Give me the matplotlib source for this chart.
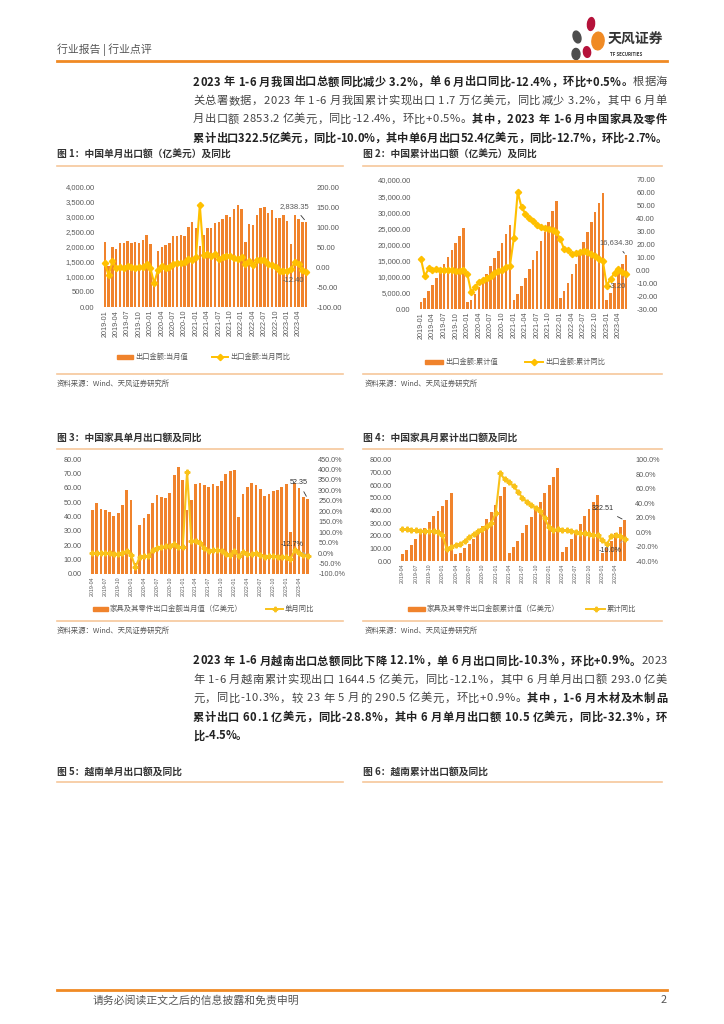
import numpy as np
import pandas as pd
import matplotlib
matplotlib.use('Agg')
import matplotlib.pyplot as plt
from matplotlib.patches import Rectangle, Ellipse
from matplotlib.lines import Line2D
from matplotlib.ticker import FuncFormatter

plt.rcParams['font.family'] = ['Noto Sans CJK SC', 'DejaVu Sans']

# ---- data ----
months_a = pd.period_range('2019-01', periods=54, freq='M').strftime('%Y-%m').tolist()
months_b = pd.period_range('2019-04', periods=51, freq='M').strftime('%Y-%m').tolist()

cn_month = [2175, 1352, 1987, 1934, 2138, 2128, 2215, 2148, 2181, 2129, 2217, 2395,
            2100, 820, 1851, 2004, 2068, 2137, 2372, 2353, 2393, 2371, 2680, 2819,
            2637, 2046, 2411, 2639, 2636, 2814, 2824, 2944, 3057, 3001, 3255, 3404,
            3273, 2174, 2760, 2735, 3083, 3309, 3329, 3147, 3225, 2983, 2961, 3063,
            2880, 2100, 3080, 2950, 2840, 2838.35]
cn_month_yoy = [9.1, -20.8, 13.8, -2.7, 1.1, -1.3, 3.3, -1.0, -3.2, -0.9, -1.1, 7.6,
                -3.0, -40.6, -6.6, 3.5, -3.3, 0.5, 7.2, 9.5, 9.9, 11.4, 21.1, 18.1,
                24.9, 154.9, 30.6, 32.3, 27.9, 32.2, 19.3, 25.6, 28.1, 27.1, 22.0, 20.9,
                24.1, 6.3, 14.7, 3.9, 16.9, 17.9, 18.0, 7.1, 5.5, -0.3, -8.9, -10.5,
                -11.0, -6.0, 13.0, 8.0, -7.5, -12.4]

cn_cum = [2175, 3527, 5514, 7448, 9586, 11714, 13929, 16077, 18258, 20387, 22604, 24990,
          2100, 2924, 4775, 6779, 8847, 10984, 13356, 15709, 18102, 20473, 23153, 25906,
          2637, 4683, 7094, 9733, 12369, 15183, 18007, 20951, 24008, 27009, 30264, 33640,
          3273, 5447, 8207, 10942, 14025, 17334, 20663, 23810, 27035, 30018, 32979, 35936,
          2880, 4980, 8060, 11010, 13850, 16634.30]
cn_cum_yoy = [9.1, -4.6, 1.4, 0.2, 0.7, 0.1, 0.6, 0.3, -0.1, -0.2, -0.3, 0.5,
              -3.0, -17.2, -13.3, -9.0, -7.7, -6.2, -4.1, -2.3, -0.8, 0.5, 2.5, 3.6,
              24.9, 60.6, 48.8, 44.0, 40.2, 38.6, 35.0, 33.7, 33.0, 32.3, 31.1, 29.9,
              24.1, 16.3, 15.8, 12.5, 13.5, 14.2, 14.6, 14.2, 12.8, 11.1, 9.0, 7.0,
              -11.8, -6.8, -1.9, 0.9, -1.7, -3.2]

fur_month = [44.8, 49.4, 45.2, 44.8, 42.9, 40.6, 42.7, 48.3, 58.5,
             51.3, 7.7, 34.3, 38.7, 41.5, 49.4, 55.2, 53.4, 52.9, 56.6, 68.7, 74.7,
             65.7, 44.5, 51.7, 62.4, 63.1, 62.0, 60.3, 62.4, 61.5, 64.5, 69.8, 71.7,
             72.6, 39.4, 55.7, 60.3, 63.1, 61.7, 59.2, 54.5, 55.7, 57.8, 58.7, 60.8,
             62.9, 29.5, 63.3, 60.1, 53.5, 52.35]
fur_month_yoy = [1, 1, -1, 2, 0, -2, -4, -1, 10,
                 -8, -67, -19, -16, -16, 13, 25, 29, 32, 35, 43, 30,
                 28, 390, 59, 60, 48, 22, 11, 16, 13, 11, -3, -10,
                 8, -13, 5, -3, -5, 0, -8, -17, -13, -16, -17, -19,
                 -17, -27, 13, -1, -11, -12.7]

fur_cum = [55, 87, 127, 171, 219, 261, 311, 354, 393, 433, 483, 541,
           53, 63, 100, 137, 177, 224, 277, 335, 390, 443, 514, 583,
           66, 113, 161, 224, 282, 351, 404, 470, 536, 602, 668, 739,
           74, 113, 171, 227, 293, 356, 412, 470, 525,
           66, 100, 159, 218, 270, 322.51]
fur_cum_yoy = [3.7, 3.7, 2.3, 2.3, 1.8, 1.8, 1.4, 1.0, 0.5, -3.7, -24, -20,
               -18.5, -16.6, -12, -7.4, -2.8, 0.9, 5, 8.8, 12, 27, 82, 73,
               69, 64, 56, 47.6, 42, 37.4, 33.7, 29, 19, 6.5, 2.8, 3.7,
               2.8, 2.3, 1.4, 0.5, -0.9, -1.8, -2.8, -3.7, -4.6,
               -11, -17, -6, -4, -6, -10]

# ---- page ----
W, H = 724, 1024
fig = plt.figure(figsize=(7.24, 10.24), dpi=100)
R = fig.canvas.get_renderer()

ORANGE = '#F08A24'
LIGHT = '#F6C79B'
BAR = '#F0832C'
GOLD = '#FFC000'
GRAY = '#595959'
NUMF = ['Liberation Sans', 'Noto Sans CJK SC']


def fx(x):
    return x / W


def fy(y):
    return 1 - y / H


def hline(x0, x1, y, color, lw):
    fig.add_artist(Line2D([fx(x0), fx(x1)], [fy(y), fy(y)], color=color, lw=lw))


def txt(x, y, s, size, **kw):
    kw.setdefault('va', 'center')
    kw.setdefault('color', '#333333')
    return fig.text(fx(x), fy(y), s, fontsize=size, **kw)


_cw = {}


def char_w(ch, bold, size):
    key = (ch, bold, size)
    if key not in _cw:
        w = 'bold' if bold else 'normal'
        a = fig.text(0, 0, 'x' + ch + 'x', fontsize=size, fontweight=w)
        b = fig.text(0, 0, 'xx', fontsize=size, fontweight=w)
        _cw[key] = a.get_window_extent(R).width - b.get_window_extent(R).width
        a.remove()
        b.remove()
    return _cw[key]


def para_line(x0, y, segs, size=8.1, x1=None):
    chars = [(c, b) for s, b in segs for c in s]
    widths = [char_w(c, b, size) for c, b in chars]
    gap = 0
    if x1 is not None and len(chars) > 1:
        nat = sum(widths)
        if nat > 0.85 * (x1 - x0):
            gap = (x1 - x0 - nat) / (len(chars) - 1)
    x = x0
    for (c, b), w in zip(chars, widths):
        if c != ' ':
            fig.text(fx(x), fy(y), c, fontsize=size, fontweight='bold' if b else 'normal',
                     va='center', ha='left', color='#222222' if b else '#444444')
        x += w + gap


# header
txt(57, 50, '行业报告 | 行业点评', 7.8, color='#555555')
hline(57, 667, 61, ORANGE, 2)
for (cx, cy, w, h, ang, col) in [(577, 37, 7, 13, 40, '#4D4D4D'), (591, 24, 7, 13, -15, '#B5123A'),
                                 (598, 41, 12, 18, -35, ORANGE), (587, 52, 7, 11, 35, '#B5123A'),
                                 (576, 54, 8, 11, -35, '#4D4D4D')]:
    fig.add_artist(Ellipse((fx(cx), fy(cy)), w / W, h / H, angle=ang, color=col))
txt(608, 40, '天风证券', 10, fontweight='bold', color='#333333')
txt(610, 54, 'TF SECURITIES', 3.2, color='#333333', fontweight='bold')

# paragraph 1
p1 = [
    [('2023 年 1-6 月我国出口总额同比减少 3.2%，单 6 月出口同比-12.4%，环比+0.5%。', True), ('根据海', False)],
    [('关总署数据，2023 年 1-6 月我国累计实现出口 1.7 万亿美元，同比减少 3.2%，其中 6 月单', False)],
    [('月出口额 2853.2 亿美元，同比-12.4%，环比+0.5%。', False), ('其中，2023 年 1-6 月中国家具及零件', True)],
    [('累计出口322.5亿美元，同比-10.0%，其中单6月出口52.4亿美元，同比-12.7%，环比-2.7%。', True)],
]
for i, segs in enumerate(p1):
    para_line(193, 82 + i * 18.7, segs, x1=667)

p2 = [
    [('2023 年 1-6 月越南出口总额同比下降 12.1%，单 6 月出口同比-10.3%，环比+0.9%。', True), ('2023', False)],
    [('年 1-6 月越南累计实现出口 1644.5 亿美元，同比-12.1%，其中 6 月单月出口额 293.0 亿美', False)],
    [('元，同比-10.3%，较 23 年 5 月的 290.5 亿美元，环比+0.9%。', False), ('其中，1-6 月木材及木制品', True)],
    [('累计出口 60.1 亿美元，同比-28.8%，其中 6 月单月出口额 10.5 亿美元，同比-32.3%，环', True)],
    [('比-4.5%。', True)],
]
for i, segs in enumerate(p2):
    para_line(193, 661 + i * 18.7, segs, x1=667)


def make_ax(l, r, t, b):
    return fig.add_axes([fx(l), fy(b), (r - l) / W, (b - t) / H])


def chart(box, labels, bars, line, lim_l, step_l, fmt_l, lim_r, step_r, fmt_r,
          lc, marker, ms, xsize, ysize):
    ax = make_ax(*box)
    x = np.arange(len(bars))
    ax.bar(x, bars, width=0.66, color=BAR, zorder=2)
    ax.set_xlim(-1, len(bars))
    ax.set_ylim(*lim_l)
    ax.set_yticks(np.arange(lim_l[0], lim_l[1] + step_l / 2, step_l))
    ax.yaxis.set_major_formatter(FuncFormatter(fmt_l))
    ax.set_xticks(x[::3])
    ax.set_xticklabels(labels[::3], rotation=90)
    ax2 = ax.twinx()
    ax2.plot(x, line, color=lc, lw=1.5, marker=marker, ms=ms, zorder=3)
    ax2.set_ylim(*lim_r)
    ax2.set_yticks(np.arange(lim_r[0], lim_r[1] + step_r / 2, step_r))
    ax2.yaxis.set_major_formatter(FuncFormatter(fmt_r))
    for a in (ax, ax2):
        a.set_facecolor('none')
        for s in a.spines.values():
            s.set_visible(False)
        a.tick_params(length=0, colors=GRAY, labelsize=ysize, pad=4.5)
        for t in a.get_yticklabels():
            t.set_family(NUMF)
    ax.tick_params(axis='x', labelsize=xsize, pad=2)
    for t in ax.get_xticklabels():
        t.set_family(NUMF)
    return ax, ax2


def legend(y, rect, t1, line, t2, size, lc=GOLD, marker='D'):
    fig.add_artist(Rectangle((fx(rect[0]), fy(y) - 2 / H), (rect[1] - rect[0]) / W, 4 / H, color=BAR))
    txt(rect[1] + 2, y, t1, size, color=GRAY)
    fig.add_artist(Line2D([fx(line[0]), fx(line[1])], [fy(y), fy(y)], color=lc, lw=1.4))
    fig.add_artist(Line2D([fx((line[0] + line[1]) / 2)], [fy(y)], color=lc, marker=marker, ms=3.2))
    txt(line[1] + 2, y, t2, size, color=GRAY)


def section(x0, x1, title, ytitle, yline):
    txt(x0, ytitle, title, 7, fontweight='bold', color='#333333')
    hline(x0, x1, yline, LIGHT, 1.2)


f2 = lambda v, p: f'{v:,.2f}'
fp = lambda v, p: f'{v:.1f}%'
LC2 = '#F9C21A'

# figure 1
section(57, 343, '图 1：中国单月出口额（亿美元）及同比', 155, 166)
ax, ax2 = chart((101, 310, 187, 307), months_a, cn_month, cn_month_yoy, (0, 4000), 500, f2,
                (-100, 200), 50, f2, GOLD, 'D', 3.2, 5.2, 5.5)
ax.annotate('2,838.35', xy=(53, cn_month[-1]), xytext=(294, H - 207), textcoords='figure pixels',
            ha='center', va='center', fontsize=5.5, color=GRAY, family=NUMF,
            arrowprops=dict(arrowstyle='-', color='#333333', lw=0.6))
ax2.annotate('-12.40', xy=(53, cn_month_yoy[-1]), xytext=(304, H - 280), textcoords='figure pixels',
             ha='right', va='center', fontsize=5.5, color=GRAY, family=NUMF)
legend(357, (117, 133), '出口金额:当月值', (212, 228), '出口金额:当月同比', 5.2)
hline(57, 343, 374, LIGHT, 1.2)
txt(57, 384, '资料来源：Wind、天风证券研究所', 5.3, color='#555555')

# figure 2
section(363, 662, '图 2：中国累计出口额（亿美元）及同比', 155, 166)
ax, ax2 = chart((417, 630, 180, 309), months_a, cn_cum, cn_cum_yoy, (0, 40000), 5000, f2,
                (-30, 70), 10, f2, GOLD, 'D', 3.2, 5.2, 5.5)
ax.annotate('16,634.30', xy=(53, cn_cum[-1]), xytext=(616, H - 243), textcoords='figure pixels',
            ha='center', va='center', fontsize=5.5, color=GRAY, family=NUMF,
            arrowprops=dict(arrowstyle='-', color='#333333', lw=0.6))
ax2.annotate('-3.20', xy=(53, cn_cum_yoy[-1]), xytext=(617, H - 287), textcoords='figure pixels',
             ha='center', va='center', fontsize=5.5, color=GRAY, family=NUMF,
             arrowprops=dict(arrowstyle='-', color='#A6A6A6', lw=0.6))
legend(362, (425, 443), '出口金额:累计值', (525, 543), '出口金额:累计同比', 5.2)
hline(363, 662, 374, LIGHT, 1.2)
txt(365, 384, '资料来源：Wind、天风证券研究所', 5.3, color='#555555')

# figure 3
section(57, 343, '图 3：中国家具单月出口额及同比', 438, 449)
ax, ax2 = chart((88, 312, 459, 574), months_b, fur_month, fur_month_yoy, (0, 80), 10, f2,
                (-100, 450), 50, fp, LC2, 'P', 3.4, 3.8, 5.2)
ax.annotate('52.35', xy=(50, fur_month[-1]), xytext=(299, H - 483), textcoords='figure pixels',
            ha='center', va='center', fontsize=5.2, color='#333333', family=NUMF,
            arrowprops=dict(arrowstyle='-', color='#333333', lw=0.6))
ax2.annotate('-12.7%', xy=(50, fur_month_yoy[-1]), xytext=(292, H - 544), textcoords='figure pixels',
             ha='center', va='center', fontsize=5.2, color='#333333', family=NUMF,
             arrowprops=dict(arrowstyle='-', color='#A6A6A6', lw=0.6))
legend(609, (93, 108), '家具及其零件出口金额当月值（亿美元）', (266, 283), '单月同比', 5.3, LC2, 'P')
hline(57, 343, 621, LIGHT, 1.2)
txt(57, 631, '资料来源：Wind、天风证券研究所', 5.3, color='#555555')

# figure 4
section(363, 662, '图 4：中国家具月累计出口额及同比', 438, 449)
ax, ax2 = chart((398, 629, 460, 561), months_b, fur_cum, fur_cum_yoy, (0, 800), 100, f2,
                (-40, 100), 20, fp, LC2, 'P', 3.4, 3.8, 5.2)
ax.annotate('322.51', xy=(50, fur_cum[-1]), xytext=(603, H - 509), textcoords='figure pixels',
            ha='center', va='center', fontsize=5.2, color='#333333', family=NUMF,
            arrowprops=dict(arrowstyle='-', color='#333333', lw=0.6))
ax2.annotate('-10.0%', xy=(50, fur_cum_yoy[-1]), xytext=(610, H - 551), textcoords='figure pixels',
             ha='center', va='center', fontsize=5.2, color='#333333', family=NUMF,
             arrowprops=dict(arrowstyle='-', color='#A6A6A6', lw=0.6))
legend(609, (408, 425), '家具及其零件出口金额累计值（亿美元）', (586, 605), '累计同比', 5.3, LC2, 'P')
hline(363, 662, 621, LIGHT, 1.2)
txt(365, 631, '资料来源：Wind、天风证券研究所', 5.3, color='#555555')

# figures 5, 6 (titles only)
section(57, 343, '图 5：越南单月出口额及同比', 772, 782)
section(363, 662, '图 6：越南累计出口额及同比', 772, 782)

# footer
hline(57, 667, 990, ORANGE, 2)
txt(93, 1000, '请务必阅读正文之后的信息披露和免责申明', 7.8, color='#555555')
txt(667, 1000, '2', 7.8, color='#555555', ha='right')

fig.savefig('out.png', dpi=100)
